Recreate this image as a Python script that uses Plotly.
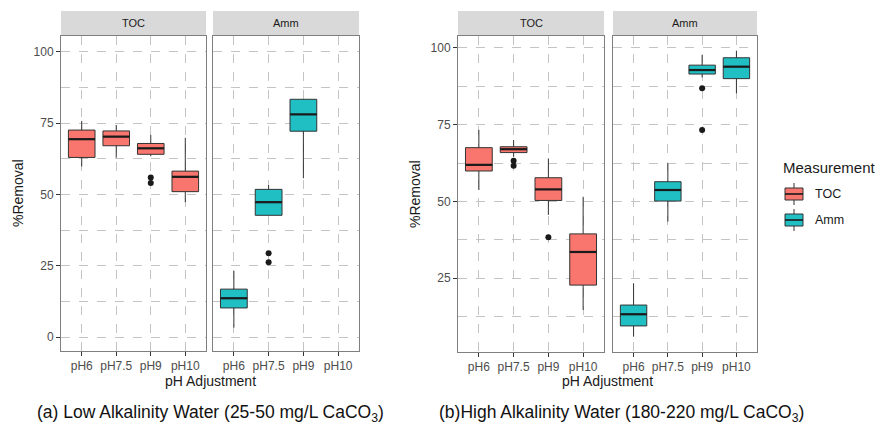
import plotly.graph_objects as go

W, H = 881, 429

categories = ["pH6", "pH7.5", "pH9", "pH10"]

# (a) Low alkalinity water - TOC removal (%)
low_toc_lo = [59.8, 62.9, 63.4, 47.3]
low_toc_q1 = [63.0, 67.1, 64.1, 51.0]
low_toc_med = [69.4, 70.3, 66.2, 56.2]
low_toc_q3 = [72.6, 72.3, 67.9, 58.2]
low_toc_hi = [75.8, 74.4, 70.9, 69.9]
low_toc_out_cat = ["pH9", "pH9"]
low_toc_out_val = [56.0, 54.0]

# (a) Low alkalinity water - ammonia removal (%), no pH10 data
low_amm_cat = ["pH6", "pH7.5", "pH9"]
low_amm_lo = [3.3, 42.7, 55.7]
low_amm_q1 = [10.2, 42.7, 72.2]
low_amm_med = [13.6, 47.3, 78.1]
low_amm_q3 = [16.8, 51.8, 83.4]
low_amm_hi = [23.2, 53.3, 83.5]
low_amm_out_cat = ["pH7.5", "pH7.5"]
low_amm_out_val = [29.4, 26.2]

# (b) High alkalinity water - TOC removal (%)
high_toc_lo = [53.7, 64.5, 45.6, 14.6]
high_toc_q1 = [59.9, 65.9, 50.3, 22.7]
high_toc_med = [61.9, 67.0, 53.9, 33.5]
high_toc_q3 = [67.5, 67.8, 57.7, 39.4]
high_toc_hi = [73.3, 70.0, 64.0, 51.5]
high_toc_out_cat = ["pH7.5", "pH7.5", "pH9"]
high_toc_out_val = [63.2, 61.6, 38.3]

# (b) High alkalinity water - ammonia removal (%)
high_amm_lo = [5.9, 43.4, 90.4, 85.2]
high_amm_q1 = [9.4, 50.1, 91.5, 90.0]
high_amm_med = [13.2, 53.7, 92.8, 93.9]
high_amm_q3 = [16.2, 56.4, 94.4, 96.8]
high_amm_hi = [23.3, 62.4, 97.7, 99.1]
high_amm_out_cat = ["pH9", "pH9"]
high_amm_out_val = [86.9, 73.3]

TOC_FILL = "#F8766D"
AMM_FILL = "#1FBFC4"
EDGE = "#333333"
GRID = "#C4C4C4"
BORDER = "#7F7F7F"
TEXT = "#4D4D4D"
FONT = "Liberation Sans, Arial, sans-serif"
BOX_W = 0.77

# panel pixel boxes: (x0, x1, y0_top, y1_bottom)
panels = [
    (61, 206, 36, 351),
    (213, 359, 36, 351),
    (458, 604, 36, 352),
    (613, 757, 36, 352),
]
yranges = [[-4.9, 105.6], [-4.9, 105.6], [0.9, 103.9], [0.9, 103.9]]
strip_labels = ["TOC", "Amm", "TOC", "Amm"]


def pos(cats):
    return [categories.index(c) for c in cats]


fig = go.Figure()


def add_panel(i, cats, lo, q1, med, q3, hi, out_cat, out_val, fill):
    xa = "x" if i == 0 else f"x{i + 1}"
    ya = "y" if i == 0 else f"y{i + 1}"
    xs = pos(cats)
    fig.add_trace(go.Box(
        x=xs, q1=q1, median=med, q3=q3, lowerfence=lo, upperfence=hi,
        width=BOX_W, fillcolor=fill, line=dict(color=EDGE, width=1),
        whiskerwidth=0, boxpoints=False, xaxis=xa, yaxis=ya,
        showlegend=False, hoverinfo="skip",
    ))
    # thicker median bars
    mx, my = [], []
    for x, m in zip(xs, med):
        mx += [x - BOX_W / 2, x + BOX_W / 2, None]
        my += [m, m, None]
    fig.add_trace(go.Scatter(
        x=mx, y=my, mode="lines", line=dict(color="#1A1A1A", width=2.2),
        xaxis=xa, yaxis=ya, showlegend=False, hoverinfo="skip",
    ))
    fig.add_trace(go.Scatter(
        x=pos(out_cat), y=out_val, mode="markers",
        marker=dict(color="#1A1A1A", size=6),
        xaxis=xa, yaxis=ya, showlegend=False, hoverinfo="skip",
    ))


add_panel(0, categories, low_toc_lo, low_toc_q1, low_toc_med, low_toc_q3,
          low_toc_hi, low_toc_out_cat, low_toc_out_val, TOC_FILL)
add_panel(1, low_amm_cat, low_amm_lo, low_amm_q1, low_amm_med, low_amm_q3,
          low_amm_hi, low_amm_out_cat, low_amm_out_val, AMM_FILL)
add_panel(2, categories, high_toc_lo, high_toc_q1, high_toc_med, high_toc_q3,
          high_toc_hi, high_toc_out_cat, high_toc_out_val, TOC_FILL)
add_panel(3, categories, high_amm_lo, high_amm_q1, high_amm_med, high_amm_q3,
          high_amm_hi, high_amm_out_cat, high_amm_out_val, AMM_FILL)

layout = dict(
    width=W, height=H, margin=dict(l=0, r=0, t=0, b=0),
    paper_bgcolor="white", plot_bgcolor="white",
    font=dict(family=FONT, color=TEXT, size=12),
    showlegend=False,
)

shapes = []
annotations = []

for i, (x0, x1, y0, y1) in enumerate(panels):
    n = "" if i == 0 else str(i + 1)
    left_panel = i in (0, 2)
    layout[f"xaxis{n}"] = dict(
        domain=[x0 / W, x1 / W], anchor=f"y{n}", range=[-0.6, 3.6],
        tickmode="array", tickvals=[0, 1, 2, 3], ticktext=categories,
        showgrid=True, gridcolor=GRID, griddash="dash", gridwidth=1,
        zeroline=False, showline=True, mirror=True, linecolor=BORDER,
        linewidth=1, ticks="outside", ticklen=4, tickcolor="#333333",
        tickfont=dict(size=12, color=TEXT, family=FONT), fixedrange=True,
    )
    layout[f"yaxis{n}"] = dict(
        domain=[1 - y1 / H, 1 - y0 / H], anchor=f"x{n}", range=yranges[i],
        tickmode="array", tickvals=[0, 25, 50, 75, 100],
        showticklabels=left_panel,
        ticks="outside" if left_panel else "", ticklen=4, tickcolor="#333333",
        showgrid=True, gridcolor=GRID, griddash="dash", gridwidth=1,
        minor=dict(tickvals=[12.5, 37.5, 62.5, 87.5], showgrid=True,
                   gridcolor=GRID, griddash="dash", gridwidth=1),
        zeroline=False, showline=True, mirror=True, linecolor=BORDER,
        linewidth=1, tickfont=dict(size=12, color=TEXT, family=FONT),
        fixedrange=True,
    )
    # facet strip
    shapes.append(dict(type="rect", xref="paper", yref="paper",
                       x0=x0 / W, x1=x1 / W, y0=1 - 36 / H, y1=1 - 11 / H,
                       fillcolor="#D9D9D9", line=dict(width=0), layer="below"))
    annotations.append(dict(text=strip_labels[i], xref="paper", yref="paper",
                            x=(x0 + x1) / 2 / W, y=1 - 23.5 / H,
                            showarrow=False, xanchor="center", yanchor="middle",
                            font=dict(size=11, color="#1A1A1A", family=FONT)))

# axis titles
for cx, cy in [(210, 381), (607, 381)]:
    annotations.append(dict(text="pH Adjustment", xref="paper", yref="paper",
                            x=cx / W, y=1 - cy / H, showarrow=False,
                            xanchor="center", yanchor="middle",
                            font=dict(size=14, color="#1A1A1A", family=FONT)))
for cx, cy in [(18, 193), (415, 194)]:
    annotations.append(dict(text="%Removal", xref="paper", yref="paper",
                            x=cx / W, y=1 - cy / H, showarrow=False,
                            textangle=-90, xanchor="center", yanchor="middle",
                            font=dict(size=14, color="#1A1A1A", family=FONT)))

# captions
annotations.append(dict(text="(a) Low Alkalinity Water (25-50 mg/L CaCO<sub>3</sub>)",
                        xref="paper", yref="paper", x=35 / W, y=1 - 413 / H,
                        showarrow=False, xanchor="left", yanchor="middle",
                        font=dict(size=17.5, color="#111111", family=FONT)))
annotations.append(dict(text="(b)High Alkalinity Water (180-220 mg/L CaCO<sub>3</sub>)",
                        xref="paper", yref="paper", x=437 / W, y=1 - 413 / H,
                        showarrow=False, xanchor="left", yanchor="middle",
                        font=dict(size=17.5, color="#111111", family=FONT)))

# legend
annotations.append(dict(text="Measurement", xref="paper", yref="paper",
                        x=781 / W, y=1 - 167 / H, showarrow=False,
                        xanchor="left", yanchor="middle",
                        font=dict(size=15, color="#1A1A1A", family=FONT)))
for label, fill, cy in [("TOC", TOC_FILL, 194), ("Amm", AMM_FILL, 220)]:
    shapes.append(dict(type="line", xref="paper", yref="paper",
                       x0=794 / W, x1=794 / W, y0=1 - (cy + 11) / H,
                       y1=1 - (cy - 11) / H, line=dict(color=EDGE, width=1)))
    shapes.append(dict(type="rect", xref="paper", yref="paper",
                       x0=785 / W, x1=803 / W, y0=1 - (cy + 6) / H,
                       y1=1 - (cy - 6) / H, fillcolor=fill,
                       line=dict(color=EDGE, width=1)))
    shapes.append(dict(type="line", xref="paper", yref="paper",
                       x0=785 / W, x1=803 / W, y0=1 - cy / H, y1=1 - cy / H,
                       line=dict(color="#1A1A1A", width=1.6)))
    annotations.append(dict(text=label, xref="paper", yref="paper",
                            x=813 / W, y=1 - cy / H, showarrow=False,
                            xanchor="left", yanchor="middle",
                            font=dict(size=12.5, color="#1A1A1A", family=FONT)))

layout["shapes"] = shapes
layout["annotations"] = annotations
fig.update_layout(**layout)

fig.write_html("out.html")
